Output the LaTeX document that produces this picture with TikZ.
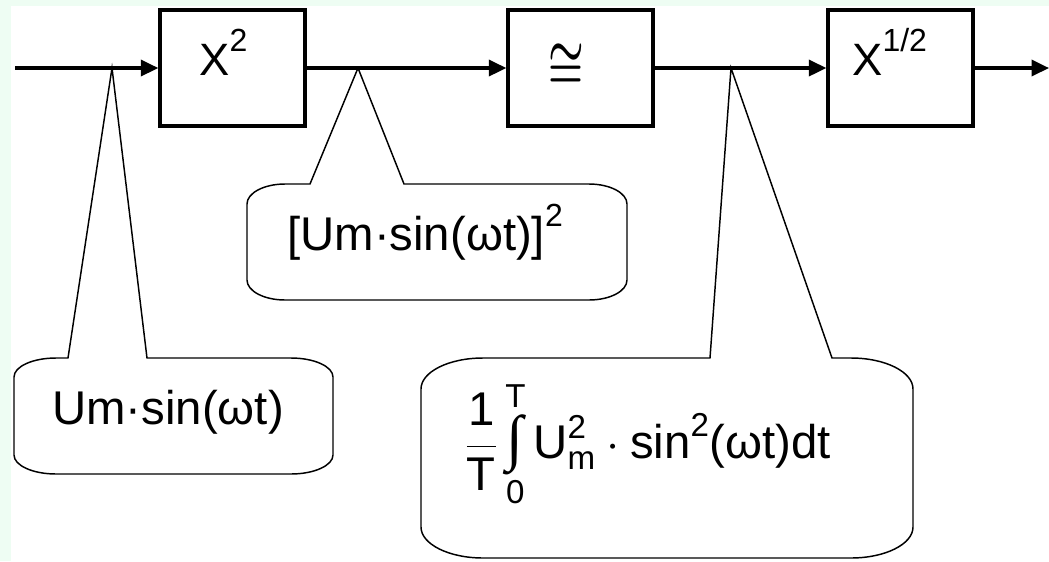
\RequirePackage{fix-cm}
\documentclass[tikz,border=0pt]{standalone}
\usepackage{amsmath}
\usepackage{graphicx}
\usepackage{fontspec}
\setmainfont{Liberation Sans}
\newfontfamily\intfont{Liberation Serif}
\usetikzlibrary{arrows.meta}
\definecolor{pagegreen}{RGB}{238,253,243}
\newcommand{\pw}[1]{\raisebox{18pt}{\fontsize{24}{24}\selectfont #1}}
\newcommand{\intsign}{\mathop{\text{\intfont\fontsize{46}{46}\selectfont ∫}}}
\tikzset{blk/.style={draw, line width=2.6pt, minimum width=108.75pt, minimum height=87pt, inner sep=0pt},
 sig/.style={line width=2.6pt, -{Triangle[length=13pt,width=12pt]}},
 bubble/.style={line width=1.1pt, line join=miter},
 txt/.style={inner sep=0pt, anchor=base west, font=\fontsize{35.5}{40}\selectfont},
 }

\begin{document}
\begin{tikzpicture}[x=0.75pt, y=-0.75pt]
        \useasboundingbox (0,0) rectangle (1049,561);
        \fill[pagegreen] (0,0) rectangle (1049,561);
        \fill[white] (11,6) rectangle (1049,561);
        \coordinate (in) at (15,68);
        \coordinate (out) at (1049,68);
        \node[blk] (sq) at (232.5,68) {};
        \node[blk] (flt) at (580.5,68) {};
        \node[blk] (rt) at (900.5,68) {};
        \draw[sig] (in) -- (sq);
        \draw[sig] (sq) -- (flt);
        \draw[sig] (flt) -- (rt);
        \draw[sig] (rt) -- (out);
        \node[txt, font=\fontsize{34}{40}\selectfont] (sqtxt) at (199,75) {X\pw{2}};
        \node[inner sep=0pt, font=\fontsize{30}{36}\selectfont] (flttxt) at (566,66) {\scalebox{1}[1.45]{\boldmath$\cong$}};
        \node[txt, font=\fontsize{34}{40}\selectfont] (rttxt) at (852,75) {X\pw{1/2}};
        \coordinate (t1) at (112,68);
        \coordinate (t2) at (358,68);
        \coordinate (t3) at (731,68);
        \draw[bubble] (68,358) -- (t1) -- (147,358) -- (291,358)
            arc[start angle=270, end angle=360, x radius=42, y radius=19] -- (333,455)
            arc[start angle=0, end angle=90, x radius=42, y radius=19] -- (56,474)
            arc[start angle=90, end angle=180, x radius=42, y radius=19] -- (14,377)
            arc[start angle=180, end angle=270, x radius=42, y radius=19] -- cycle;
        \draw[bubble] (310,184) -- (t2) -- (404,184) -- (589,184)
            arc[start angle=270, end angle=360, x radius=38, y radius=20] -- (627,280)
            arc[start angle=0, end angle=90, x radius=38, y radius=20] -- (285,300)
            arc[start angle=90, end angle=180, x radius=38, y radius=20] -- (247,204)
            arc[start angle=180, end angle=270, x radius=38, y radius=20] -- cycle;
        \draw[bubble] (710,358) -- (t3) -- (832,358) -- (851,358)
            arc[start angle=270, end angle=360, x radius=62, y radius=31] -- (913,527)
            arc[start angle=0, end angle=90, x radius=62, y radius=31] -- (483,558)
            arc[start angle=90, end angle=180, x radius=62, y radius=31] -- (421,389)
            arc[start angle=180, end angle=270, x radius=62, y radius=31] -- cycle;
        \node[txt] (sig1) at (52,424) {Um·sin(ωt)};
        \node[txt] (sig2) at (287,250) {[Um·sin(ωt)]\pw{2}};
        \node[txt] (rms) at (465,458) {$\displaystyle\frac{\text{1}}{\text{T}}\textstyle\intsign\limits_{\text{0}}^{\text{T}}\text{U}_{\text{m}}^{\text{2}}\cdot\text{sin}^{\text{2}}\text{(ωt)dt}$};
    \end{tikzpicture}
\end{document}
